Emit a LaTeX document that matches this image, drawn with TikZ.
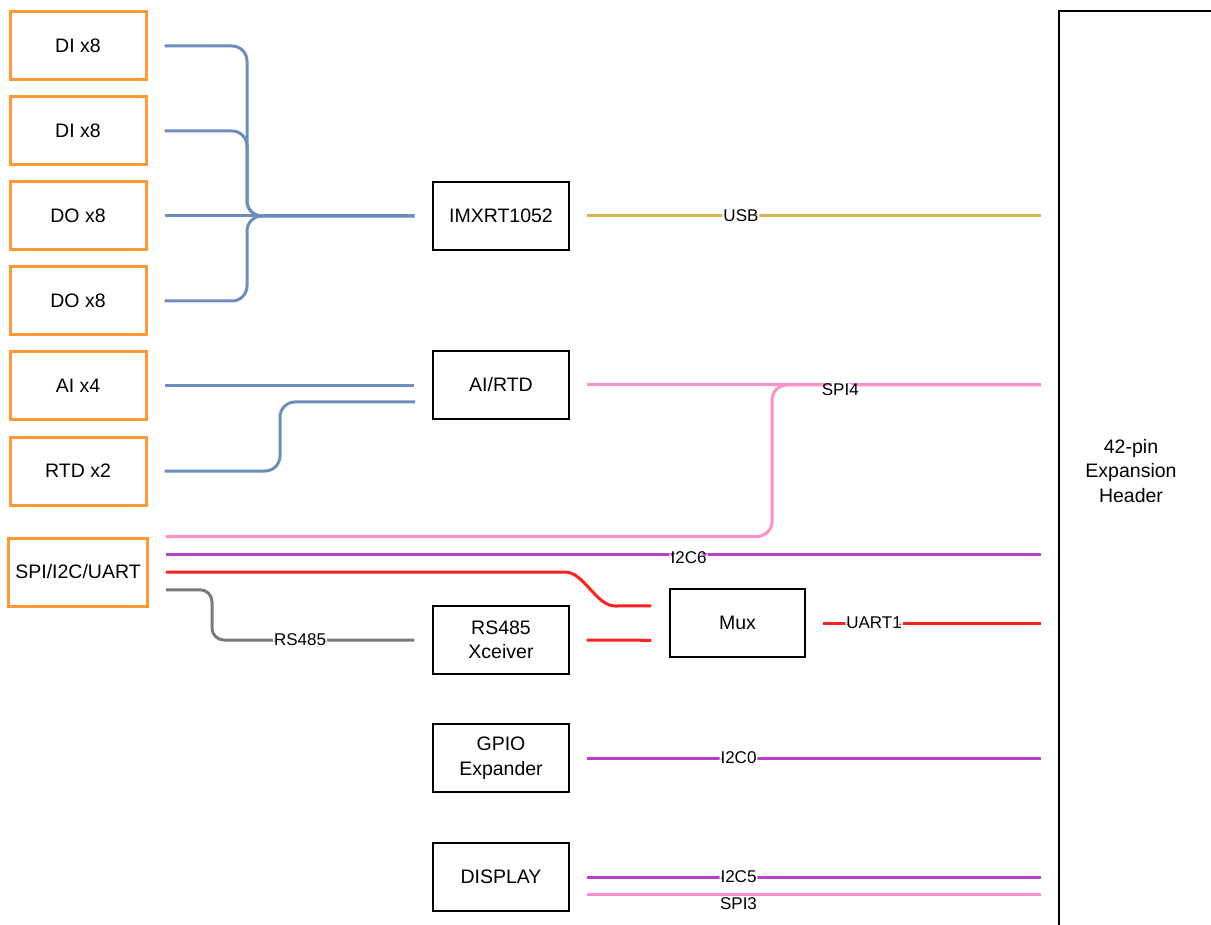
\documentclass[tikz,border=0pt]{standalone}
\usepackage{fontspec}
\setmainfont{Liberation Sans}
\usepackage{tikz}
\usepackage{xcolor}
\usetikzlibrary{positioning, calc}

\definecolor{ioorange}{HTML}{FF9933}
\definecolor{sigblue}{HTML}{6C8EBF}
\definecolor{usbgold}{HTML}{D6B656}
\definecolor{spipink}{HTML}{FF8FC8}
\definecolor{i2cpurple}{HTML}{B83FCB}
\definecolor{uartred}{HTML}{FF2020}
\definecolor{rsgray}{HTML}{7A7A7A}

\tikzstyle{io-block} = [
    rectangle, minimum width=68pt, minimum height=34pt,
    text centered, draw=ioorange, line width=1.5pt,
    font=\fontsize{9.75}{12.25}\selectfont
]
\tikzstyle{block} = [
    rectangle, minimum width=68pt, minimum height=34pt,
    align=center, draw=black, line width=0.7pt,
    font=\fontsize{9.75}{12.25}\selectfont
]
\tikzstyle{header} = [
    rectangle, minimum width=72pt, minimum height=460pt, outer sep=0pt,
    align=center, font=\fontsize{9.75}{12.25}\selectfont
]
\tikzstyle{bus} = [line width=1.5pt, rounded corners=7.5pt, shorten <=8.5pt, shorten >=9pt]
\tikzstyle{buslabel} = [fill=white, text=black, inner sep=0.5pt, font=\fontsize{8.5}{10}\selectfont]

\begin{document}
\begin{tikzpicture}[x=0.5pt, y=-0.5pt, node distance=42.5pt]
            \useasboundingbox (0,0) rectangle (1211,925);
            \clip (0,0) rectangle (1211,925);

            \node (di1) [io-block] at (78,46) {DI x8};
            \node (di2) [io-block, below of=di1] {DI x8};
            \node (do1) [io-block, below of=di2] {DO x8};
            \node (do2) [io-block, below of=do1] {DO x8};
            \node (ai)  [io-block, below of=do2] {AI x4};
            \node (rtd) [io-block, below of=ai] {RTD x2};
            \node (sio) [io-block] at (78,572) {SPI/I2C/UART};

            \node (imx)   [block] at (501,216) {IMXRT1052};
            \node (airtd) [block] at (501,385) {AI/RTD};
            \node (rs)    [block] at (501,640) {RS485\\Xceiver};
            \node (gpio)  [block] at (501,758) {GPIO\\Expander};
            \node (disp)  [block] at (501,877) {DISPLAY};
            \node (mux)   [block, minimum width=67.5pt] at (737.5,623) {Mux};

            \node (hdr) [header] at (1131,471) {42-pin\\Expansion\\Header};
            \draw [line width=0.7pt] (hdr.south west) -- (hdr.north west) -- ++(300,0);

            \coordinate (bus) at (247,216);
            \coordinate (rtdjog) at (280,402);
            \coordinate (rtdin) at (433,402);
            \coordinate (spijog) at (772,385);
            \coordinate (sioi2c) at ($(sio.north east)!.25!(sio.south east)$);
            \coordinate (siors) at ($(sio.north east)!.75!(sio.south east)$);
            \coordinate (rsjog) at (212,640);
            \coordinate (redbend) at (550,572);
            \coordinate (redland) at (630,606);
            \coordinate (muxa) at ($(mux.north west)!.25!(mux.south west)$);
            \coordinate (muxb) at ($(mux.north west)!.75!(mux.south west)$);
            \coordinate (dispspi) at ($(disp.east)+(0,17)$);

            \draw [bus, sigblue] (di1.east) -| (bus) -- (imx.west);
            \draw [bus, sigblue] (di2.east) -| (bus) -- (imx.west);
            \draw [bus, sigblue] (do1.east) -- (imx.west);
            \draw [bus, sigblue] (do2.east) -| (bus) -- (imx.west);
            \draw [bus, sigblue] (ai.east) -- (ai.east -| airtd.west);
            \draw [bus, sigblue] (rtd.east) -| (rtdjog) -- (rtdin);

            \draw [bus, usbgold] (imx.east) -- node[buslabel, pos=0.35] {USB} (imx.east -| hdr.west);
            \draw [bus, spipink] (sio.north east) -| (spijog) -- (airtd.east -| hdr.west);
            \draw [bus, spipink] (airtd.east) -- node[buslabel, pos=0.553, yshift=-2.5pt] {SPI4} (airtd.east -| hdr.west);
            \draw [bus, i2cpurple] (sioi2c) -- node[buslabel, pos=0.593, yshift=-1.5pt] {I2C6} (sioi2c -| hdr.west);
            \draw [bus, uartred] (sio.east) -- (redbend) to[out=0, in=180] (redland) -- (muxa);
            \draw [bus, uartred] (rs.east) -- (muxb);
            \draw [bus, uartred] (mux.east) -- node[buslabel, pos=0.27] {UART1} (mux.east -| hdr.west);
            \draw [bus, rsgray, rounded corners=6pt] (siors) -| (rsjog) -- node[buslabel, pos=0.4] {RS485} (rs.west);
            \draw [bus, i2cpurple] (gpio.east) -- node[buslabel, pos=0.345] {I2C0} (gpio.east -| hdr.west);
            \draw [bus, i2cpurple] (disp.east) -- node[buslabel, pos=0.345] {I2C5} (disp.east -| hdr.west);
            \draw [bus, spipink] (dispspi) -- node[buslabel, pos=0.345, yshift=-5pt] {SPI3} (dispspi -| hdr.west);
        \end{tikzpicture}
\end{document}
